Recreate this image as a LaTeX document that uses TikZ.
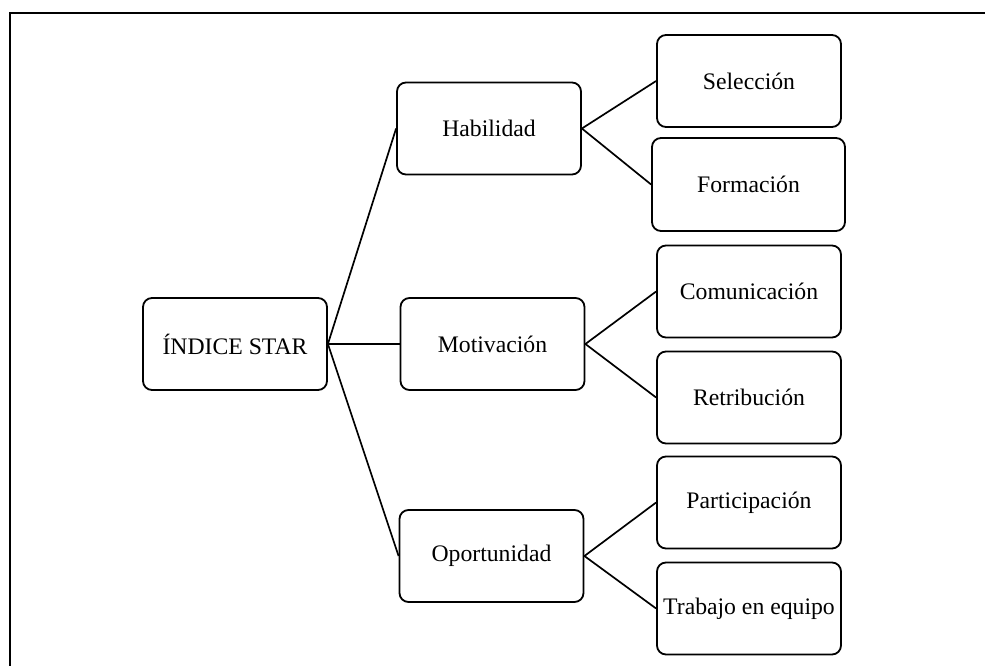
\documentclass[tikz,border=0pt]{standalone}
\usepackage{fontspec}
\setmainfont{Liberation Serif}
\begin{document}
\begin{tikzpicture}[x=1pt,y=-1pt,
  box/.style={draw, rounded corners=9pt, line width=1.8pt, inner sep=0pt,
    minimum width=184pt, minimum height=92pt,
    font=\fontsize{23.7}{28}\selectfont},
  link/.style={line width=1.7pt}]
\useasboundingbox (0,0) rectangle (985,666);
% page frame (top and left edges)
\draw[line width=2.2pt] (10,666) -- (10,13) -- (985,13);

% root
\node[box] (root) at (235,344) {ÍNDICE STAR};

% second level
\node[box] (hab) at (489,128.5) {Habilidad};
\node[box] (mot) at (492.5,344) {Motivación};
\node[box] (opo) at (491.5,556) {Oportunidad};

% third level
\node[box] (sel) at (749,81) {Selección};
\node[box, minimum width=193pt, minimum height=93pt] (for) at (748.5,184.5) {Formación};
\node[box] (com) at (749,291.5) {Comunicación};
\node[box] (ret) at (749,397.5) {Retribución};
\node[box] (par) at (749,502.5) {Participación};
\node[box] (tra) at (749,608.5) {Trabajo en equipo};

% connectors
\draw[link] (root.east) -- (hab.west);
\draw[link] (root.east) -- (mot.west);
\draw[link] (root.east) -- (opo.west);
\draw[link] (hab.east) -- (sel.west);
\draw[link] (hab.east) -- (for.west);
\draw[link] (mot.east) -- (com.west);
\draw[link] (mot.east) -- (ret.west);
\draw[link] (opo.east) -- (par.west);
\draw[link] (opo.east) -- (tra.west);
\end{tikzpicture}
\end{document}
